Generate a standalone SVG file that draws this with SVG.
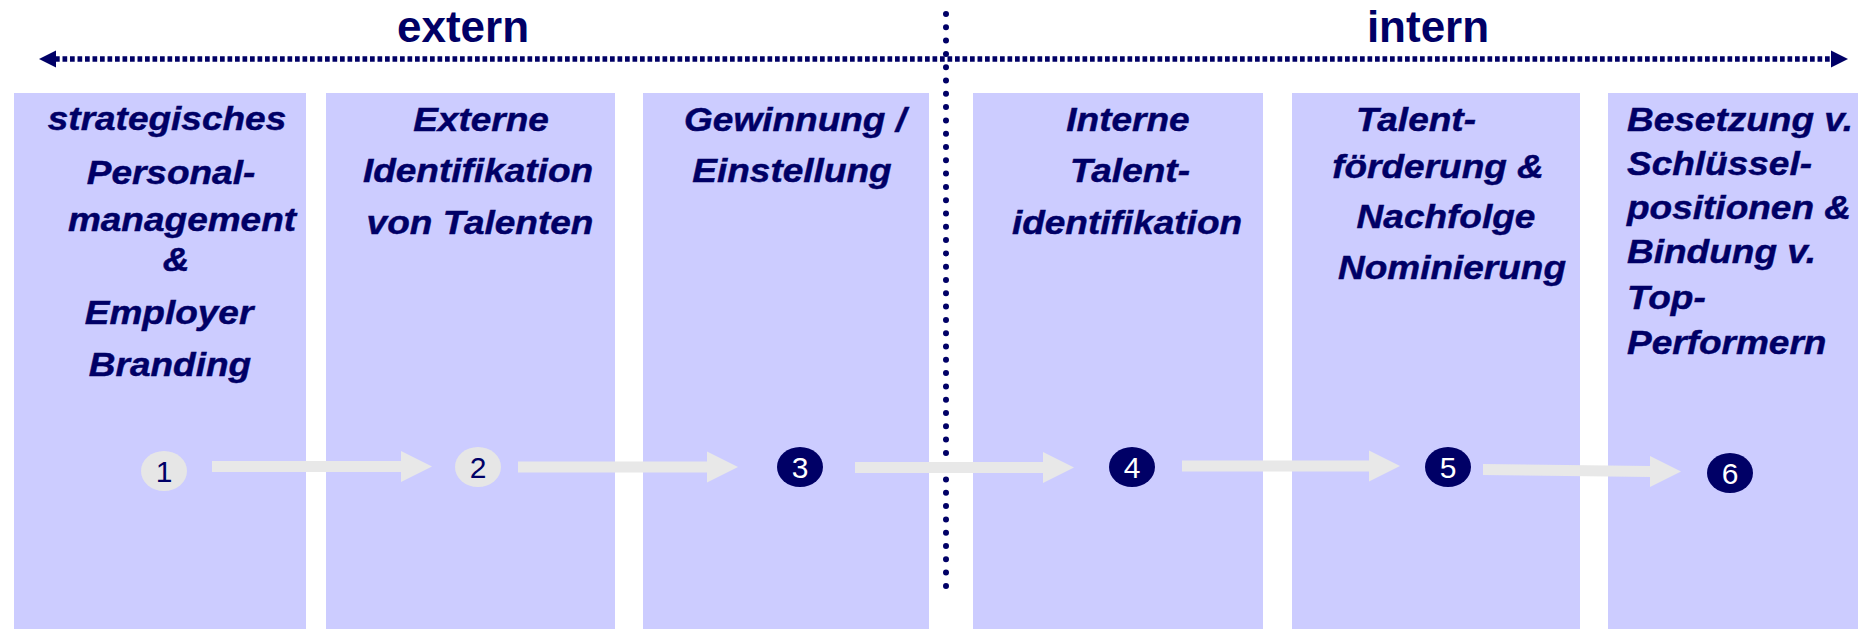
<svg xmlns="http://www.w3.org/2000/svg" width="1866" height="629" viewBox="0 0 1866 629">
<style>
.col{fill:#CCCCFF}
.t{font-family:"Liberation Sans",Arial,sans-serif;font-weight:bold;font-style:italic;font-size:37px;fill:#000066;stroke:#000066;stroke-width:0.5}
.m{text-anchor:middle}
.s{text-anchor:start}
.hd{font-family:"Liberation Sans",Arial,sans-serif;font-weight:bold;font-size:44px;fill:#000066;text-anchor:middle}
.cg{fill:#E6E6E6}
.cn{fill:#000066}
.dg{font-family:"Liberation Sans",Arial,sans-serif;font-size:30px;text-anchor:middle;fill:#000066}
.dw{font-family:"Liberation Sans",Arial,sans-serif;font-size:30px;text-anchor:middle;fill:#FFFFFF}
.arr{fill:#E8E8E8}
.dots{stroke:#000066;fill:none}
</style>
<rect width="1866" height="629" fill="#FFFFFF"/>

<g id="step1">
<rect class="col" x="14" y="93" width="292" height="536"/>
<text class="t m" transform="translate(167 130) scale(1 0.88)">strategisches</text>
<text class="t m" transform="translate(171 184) scale(1 0.88)">Personal-</text>
<text class="t m" transform="translate(182 231) scale(1 0.88)">management</text>
<text class="t m" transform="translate(176 271) scale(1 0.88)">&amp;</text>
<text class="t m" transform="translate(169 324) scale(1 0.88)">Employer</text>
<text class="t m" transform="translate(170 376) scale(1 0.88)">Branding</text>
<ellipse class="cg" cx="164" cy="471" rx="23" ry="20"/>
<text class="dg" x="164" y="482">1</text>
</g>

<g id="step2">
<rect class="col" x="326" y="93" width="289" height="536"/>
<text class="t m" transform="translate(481 131) scale(1 0.88)">Externe</text>
<text class="t m" transform="translate(478 182) scale(1 0.88)">Identifikation</text>
<text class="t m" transform="translate(480 234) scale(1 0.88)">von Talenten</text>
<ellipse class="cg" cx="478" cy="467" rx="23" ry="20"/>
<text class="dg" x="478" y="478">2</text>
</g>

<g id="step3">
<rect class="col" x="643" y="93" width="286" height="536"/>
<text class="t m" transform="translate(795 131) scale(1 0.88)">Gewinnung /</text>
<text class="t m" transform="translate(792 182) scale(1 0.88)">Einstellung</text>
<ellipse class="cn" cx="800" cy="467" rx="23" ry="20"/>
<text class="dw" x="800" y="478">3</text>
</g>

<g id="step4">
<rect class="col" x="973" y="93" width="290" height="536"/>
<text class="t m" transform="translate(1128 131) scale(1 0.88)">Interne</text>
<text class="t m" transform="translate(1130 182) scale(1 0.88)">Talent-</text>
<text class="t m" transform="translate(1127 234) scale(1 0.88)">identifikation</text>
<ellipse class="cn" cx="1132" cy="467" rx="23" ry="20"/>
<text class="dw" x="1132" y="478">4</text>
</g>

<g id="step5">
<rect class="col" x="1292" y="93" width="288" height="536"/>
<text class="t m" transform="translate(1416 131) scale(1 0.88)">Talent-</text>
<text class="t m" transform="translate(1438 178) scale(1 0.88)">förderung &amp;</text>
<text class="t m" transform="translate(1446 228) scale(1 0.88)">Nachfolge</text>
<text class="t m" transform="translate(1452 279) scale(1 0.88)">Nominierung</text>
<ellipse class="cn" cx="1448" cy="467" rx="23" ry="20"/>
<text class="dw" x="1448" y="478">5</text>
</g>

<g id="step6">
<rect class="col" x="1608" y="93" width="250" height="536"/>
<text class="t s" transform="translate(1627 131) scale(1 0.88)">Besetzung v.</text>
<text class="t s" transform="translate(1627 175) scale(1 0.88)">Schlüssel-</text>
<text class="t s" transform="translate(1627 219) scale(1 0.88)">positionen &amp;</text>
<text class="t s" transform="translate(1627 263) scale(1 0.88)">Bindung v.</text>
<text class="t s" transform="translate(1627 309) scale(1 0.88)">Top-</text>
<text class="t s" transform="translate(1627 354) scale(1 0.88)">Performern</text>
<ellipse class="cn" cx="1730" cy="473" rx="23" ry="20"/>
<text class="dw" x="1730" y="484">6</text>
</g>

<g id="header">
<text class="hd" x="463" y="42">extern</text>
<text class="hd" x="1428" y="42">intern</text>
<line class="dots" x1="55" y1="59" x2="1832" y2="59" stroke-width="5.5" stroke-dasharray="4.7 2.8"/>
<polygon fill="#000066" points="39,59 56,50.5 56,67.5"/>
<polygon fill="#000066" points="1848,59 1831,50.5 1831,67.5"/>
<line class="dots" x1="946" y1="14" x2="946" y2="589" stroke-width="6" stroke-linecap="round" stroke-dasharray="0 13.3"/>
</g>

<g id="connectors">
<polygon class="arr" points="212,461 401,461 401,451 432,466.5 401,482 401,472 212,472"/>
<polygon class="arr" points="518,461.5 707,461.5 707,451.5 738,467 707,482.5 707,472.5 518,472.5"/>
<polygon class="arr" points="855,462 1043,462 1043,452 1074,467.5 1043,483 1043,473 855,473"/>
<polygon class="arr" points="1182,460.5 1369,460.5 1369,450.5 1400,466 1369,481.5 1369,471.5 1182,471.5"/>
<polygon class="arr" points="1483,464 1650,466 1650,456 1681,471.5 1650,487 1650,477 1483,475"/>
</g>
</svg>
